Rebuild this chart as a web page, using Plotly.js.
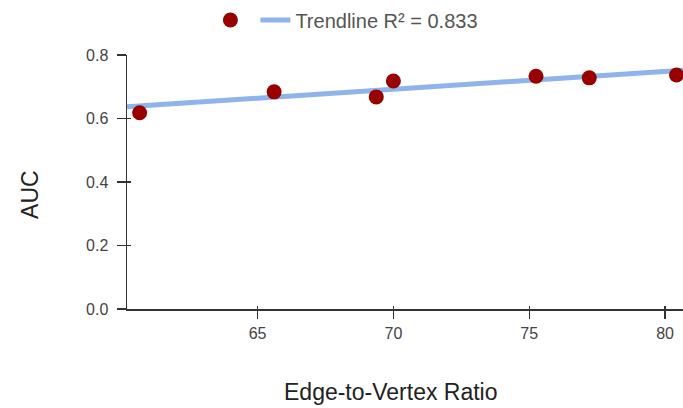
<!DOCTYPE html>
<html>
<head>
<meta charset="utf-8">
<script src="https://cdn.plot.ly/plotly-3.0.1.min.js"></script>
<style>
html,body{margin:0;padding:0;background:#fff;}
#chart{width:683px;height:408px;}
</style>
</head>
<body>
<div id="chart"></div>
<script>
// Data
const ratio = [60.66, 65.61, 69.37, 70.0, 75.25, 77.21, 80.42];
const auc = [0.618, 0.684, 0.668, 0.718, 0.733, 0.728, 0.737];
// Trendline endpoints
const trendX = [60.2, 80.66];
const trendY = [0.637, 0.752];
const trendLabel = "Trendline R\u00b2 = 0.833";
const xTitle = "Edge-to-Vertex Ratio";
const yTitle = "AUC";
const xTicks = [65, 70, 75, 80];
const yTicks = [0.0, 0.2, 0.4, 0.6, 0.8];
const yTickText = ["0.0", "0.2", "0.4", "0.6", "0.8"];

const FONT = "Arial, 'Liberation Sans', sans-serif";

const traces = [
  {
    x: trendX, y: trendY, mode: "lines", name: trendLabel,
    line: {color: "#8fb3ec", width: 5},
    hoverinfo: "skip", showlegend: true, legendrank: 2
  },
  {
    x: ratio, y: auc, mode: "markers", name: "",
    marker: {color: "#990000", size: 15},
    showlegend: true, legendrank: 1, cliponaxis: false
  },
  // helper trace carrying the inner tick halves
  {x: ratio, y: auc, xaxis: "x2", yaxis: "y2", mode: "markers",
   marker: {opacity: 0}, showlegend: false, hoverinfo: "skip"}
];

const layout = {
  width: 683, height: 408,
  margin: {l: 127, r: 0, t: 55, b: 99, pad: 0, autoexpand: false},
  paper_bgcolor: "#fff", plot_bgcolor: "#fff",
  font: {family: FONT, color: "#444", size: 16},
  showlegend: true,
  legend: {
    orientation: "h", x: 0.15, xanchor: "left", y: 1.138, yanchor: "middle",
    font: {family: FONT, size: 20, color: "#555"},
    traceorder: "normal", itemwidth: 30, bgcolor: "rgba(0,0,0,0)"
  },
  xaxis: {
    range: [60.195, 80.66], tickvals: xTicks, ticktext: xTicks.map(String),
    showgrid: false, zeroline: false, showline: true, linecolor: "#333", linewidth: 1.5,
    ticks: "outside", ticklen: 8, tickwidth: 1.3, tickcolor: "#333",
    tickfont: {size: 16, color: "#444"}, ticklabelstandoff: 1,
    automargin: false
  },
  yaxis: {
    range: [0, 0.8], tickvals: yTicks, ticktext: yTickText,
    showgrid: false, zeroline: false, showline: true, linecolor: "#333", linewidth: 1.5,
    ticks: "outside", ticklen: 9, tickwidth: 1.3, tickcolor: "#333",
    tickfont: {size: 16, color: "#444"}, ticklabelstandoff: 5,
    automargin: false
  },
  xaxis2: {
    overlaying: "x", range: [60.195, 80.66], tickvals: xTicks, showticklabels: false,
    showgrid: false, zeroline: false, showline: false,
    ticks: "inside", ticklen: 3, tickwidth: 1.3, tickcolor: "#333"
  },
  yaxis2: {
    overlaying: "y", range: [0, 0.8], tickvals: yTicks, showticklabels: false,
    showgrid: false, zeroline: false, showline: false,
    ticks: "inside", ticklen: 4, tickwidth: 1.3, tickcolor: "#333"
  },
  annotations: [
    {text: xTitle, xref: "paper", yref: "paper", x: 0.475, y: -0.327,
     xanchor: "center", yanchor: "middle", showarrow: false,
     font: {family: FONT, size: 23, color: "#222"}},
    {text: yTitle, xref: "paper", yref: "paper", x: -0.1745, y: 0.453,
     xanchor: "center", yanchor: "middle", showarrow: false, textangle: -90,
     font: {family: FONT, size: 23, color: "#222"}}
  ]
};

Plotly.newPlot("chart", traces, layout, {displayModeBar: false, staticPlot: true});
</script>
</body>
</html>
